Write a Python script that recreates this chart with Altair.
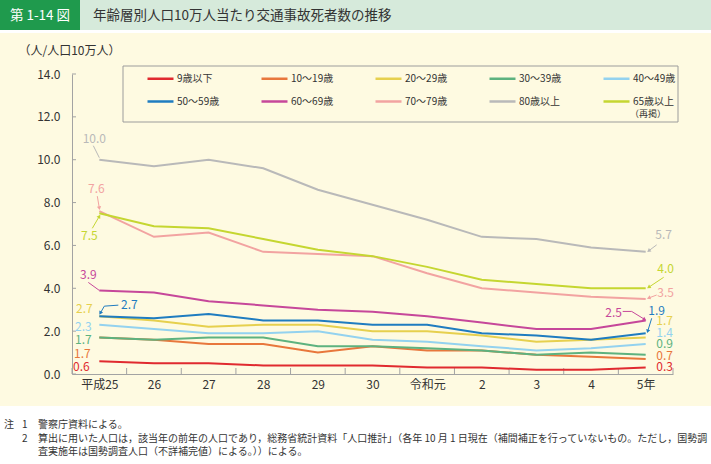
import math

import altair as alt
import pandas as pd

FONT = "Noto Sans CJK JP"

# ---- data -------------------------------------------------------------
years = ["平成25", "26", "27", "28", "29", "30", "令和元", "2", "3", "4", "5年"]

series_names = ["9歳以下", "10～19歳", "20～29歳", "30～39歳", "40～49歳",
                "50～59歳", "60～69歳", "70～79歳", "80歳以上", "65歳以上"]

age_0_9 = [0.6, 0.5, 0.5, 0.4, 0.4, 0.4, 0.3, 0.3, 0.2, 0.2, 0.3]
age_10_19 = [1.7, 1.6, 1.4, 1.4, 1.0, 1.3, 1.1, 1.1, 0.9, 0.8, 0.7]
age_20_29 = [2.7, 2.5, 2.2, 2.3, 2.3, 2.0, 2.0, 1.8, 1.5, 1.6, 1.7]
age_30_39 = [1.7, 1.6, 1.7, 1.7, 1.3, 1.3, 1.2, 1.1, 0.9, 1.0, 0.9]
age_40_49 = [2.3, 2.1, 1.9, 1.9, 2.0, 1.6, 1.5, 1.3, 1.1, 1.2, 1.4]
age_50_59 = [2.7, 2.6, 2.8, 2.5, 2.5, 2.3, 2.3, 1.9, 1.8, 1.6, 1.9]
age_60_69 = [3.9, 3.8, 3.4, 3.2, 3.0, 2.9, 2.7, 2.4, 2.1, 2.1, 2.5]
age_70_79 = [7.6, 6.4, 6.6, 5.7, 5.6, 5.5, 4.7, 4.0, 3.8, 3.6, 3.5]
age_80_up = [10.0, 9.7, 10.0, 9.6, 8.6, 7.9, 7.2, 6.4, 6.3, 5.9, 5.7]
age_65_up = [7.5, 6.9, 6.8, 6.3, 5.8, 5.5, 5.0, 4.4, 4.2, 4.0, 4.0]

series_values = [age_0_9, age_10_19, age_20_29, age_30_39, age_40_49,
                 age_50_59, age_60_69, age_70_79, age_80_up, age_65_up]

y_ticks = [0, 2, 4, 6, 8, 10, 12, 14]

# ---- styling ----------------------------------------------------------
colors = ["#e02a2f", "#e8773c", "#e6d04e", "#5db27f", "#93d2ef",
          "#1f7cc0", "#c6479a", "#f2a3a1", "#b9b9b9", "#c5d631"]
color_of = dict(zip(series_names, colors))

W, H = 601, 300          # plot area
PAD_L, PAD_T = 72, 74    # offset of the plot area inside the page
X_DOM = [-0.5, len(years) - 0.5]
Y_DOM = [0, 14]
PX_X = W / len(years)    # pixels per category
PX_Y = H / (Y_DOM[1] - Y_DOM[0])  # pixels per unit
AXIS_GRAY = "#a3a3a3"
TEXT = "#333333"
CREAM = "#fefae1"

rows = []
for name, vals in zip(series_names, series_values):
    for i, v in enumerate(vals):
        rows.append({"series": name, "idx": i, "value": v})
df = pd.DataFrame(rows)

label_js = "[" + ",".join(f"'{y}'" for y in years) + "][datum.value]"

x_enc = alt.X(
    "idx:Q",
    scale=alt.Scale(domain=X_DOM, nice=False, zero=False),
    axis=alt.Axis(values=list(range(len(years))), labelExpr=label_js, ticks=False,
                  grid=False, title=None, domainColor=AXIS_GRAY, labelColor=TEXT,
                  labelFont=FONT, labelFontSize=12, labelPadding=5),
)
y_enc = alt.Y(
    "value:Q",
    scale=alt.Scale(domain=Y_DOM, nice=False),
    axis=alt.Axis(values=y_ticks, format=".1f", ticks=False, grid=False,
                  domainColor=AXIS_GRAY, labelColor=TEXT, labelFont=FONT,
                  labelFontSize=12, labelPadding=12,
                  title="（人/人口10万人）", titleAngle=0, titleAlign="left",
                  titleBaseline="middle", titleX=-54, titleY=-24,
                  titleFont=FONT, titleFontSize=12, titleFontWeight="normal",
                  titleColor=TEXT),
)

one = pd.DataFrame({"k": [0]})


def rect(x0, y0, x1, y1, fill, stroke=None):
    kw = {"fill": fill}
    if stroke:
        kw.update(stroke=stroke, strokeWidth=1)
    return alt.Chart(one).mark_rect(**kw).encode(
        x=alt.value(x0 - PAD_L), x2=alt.value(x1 - PAD_L),
        y=alt.value(y0 - PAD_T), y2=alt.value(y1 - PAD_T))


def note(text, x, y, size=10, color=TEXT, align="left"):
    return alt.Chart(one).mark_text(
        text=text, align=align, baseline="middle", font=FONT, fontSize=size,
        color=color).encode(x=alt.value(x - PAD_L), y=alt.value(y - PAD_T))


# page furniture: header band, white strip, notes area, legend frame
furniture = [
    rect(0, 0, 711, 33, "#ffffff"),
    rect(0, 0, 80, 30, "#1f9a4d"),
    rect(80, 0, 711, 30, "#d6eadb"),
    rect(0, 406, 711, 464, "#ffffff"),
    rect(123, 66, 678, 122, CREAM, "#9c9c9c"),
]
texts = [
    note("第 1-14 図", 40, 16, size=13.5, color="#ffffff", align="center"),
    note("年齢層別人口10万人当たり交通事故死者数の推移", 93, 16, size=13.5),
    note("（再掲）", 630, 114, size=9),
    note("注", 4, 425),
    note("1", 22, 425),
    note("警察庁資料による。", 38, 425),
    note("2", 22, 439),
    note("算出に用いた人口は，該当年の前年の人口であり，総務省統計資料「人口推計」（各年 10 月 1 日現在（補間補正を行っていないもの。ただし，国勢調", 38, 439),
    note("査実施年は国勢調査人口（不詳補完値）による。））による。", 38, 452),
]

# inward tick marks on both axes
y_tick_df = pd.DataFrame({"value": y_ticks})
y_tick_rules = alt.Chart(y_tick_df).mark_rule(color=AXIS_GRAY).encode(
    y=y_enc, x=alt.value(0), x2=alt.value(4))
x_tick_df = pd.DataFrame({"idx": [i - 0.5 for i in range(len(years) + 1)]})
x_tick_rules = alt.Chart(x_tick_df).mark_rule(color=AXIS_GRAY).encode(
    x=x_enc, y=alt.value(H), y2=alt.value(H - 6))

lines = alt.Chart(df).mark_line(strokeWidth=2).encode(
    x=x_enc, y=y_enc,
    color=alt.Color(
        "series:N",
        scale=alt.Scale(domain=series_names, range=colors),
        legend=alt.Legend(orient="none", legendX=74, legendY=-10, direction="horizontal",
                          columns=5, title=None, symbolType="stroke", symbolSize=676,
                          symbolStrokeWidth=2.5, labelFont=FONT, labelFontSize=10,
                          labelColor=TEXT, labelOffset=2, columnPadding=36,
                          rowPadding=3, gridAlign="all", padding=0),
    ),
    detail="series:N",
)

# value labels at both ends: (series, index, dx, dy, leader points in px, arrow)
last = len(years) - 1
label_specs = [
    ("80歳以上", 0, -5, -21, [(-6, -14), (0, -2)], False),
    ("70～79歳", 0, -3, -22, [(-2, -15), (0, -3)], True),
    ("65歳以上", 0, -10, 23, [(-7, 15), (0, 3)], True),
    ("60～69歳", 0, -11, -15, [(-11, -8), (0, 0)], False),
    ("20～29歳", 0, -15, -7, None, False),
    ("50～59歳", 0, 30, -11, [(19, -11), (5, -10), (1, -3)], True),
    ("40～49歳", 0, -16, 2, None, False),
    ("30～39歳", 0, -16, 2, None, False),
    ("10～19歳", 0, -17, 16, None, False),
    ("9歳以下", 0, -18, 6, None, False),
    ("80歳以上", last, 18, -17, [(11, -7), (3, -1)], True),
    ("65歳以上", last, 20, -19, [(18, -11), (3, -1)], True),
    ("70～79歳", last, 20, -6, [(11, -4), (3, -1)], True),
    ("60～69歳", last, -32, -7, [(-23, -9), (-14, -9), (-1, -1)], True),
    ("50～59歳", last, 11, -22, [(6, -15), (2, -2)], True),
    ("20～29歳", last, 19, -17, None, False),
    ("40～49歳", last, 19, -11.5, None, False),
    ("30～39歳", last, 19, -10.5, None, False),
    ("10～19歳", last, 19, -3.5, None, False),
    ("9歳以下", last, 19, -0.5, None, False),
]

label_layers = []
for name, i, dx, dy, leader, arrow in label_specs:
    point = df[(df.series == name) & (df.idx == i)]
    col = color_of[name]
    label_layers.append(
        alt.Chart(point).mark_text(dx=dx, dy=dy, align="center", baseline="middle",
                                   font=FONT, fontSize=12, color=col)
        .encode(x=x_enc, y=y_enc, text=alt.Text("value:Q", format=".1f")))
    if leader:
        v = float(point["value"].iloc[0])
        pts = pd.DataFrame({
            "idx": [i + px / PX_X for px, _ in leader],
            "value": [v - py / PX_Y for _, py in leader],
            "o": list(range(len(leader))),
        })
        label_layers.append(
            alt.Chart(pts).mark_line(color=col, strokeWidth=1)
            .encode(x=x_enc, y=y_enc, order="o:Q"))
        if arrow:
            (ax, ay), (bx, by) = leader[-2], leader[-1]
            ang = math.degrees(math.atan2(bx - ax, -(by - ay))) % 360
            tip = pts.iloc[[-1]]
            label_layers.append(
                alt.Chart(tip).mark_point(shape="triangle-up", filled=True, size=18,
                                          color=col, opacity=1, angle=round(ang, 1))
                .encode(x=x_enc, y=y_enc))

chart = alt.layer(
    *furniture, *texts, y_tick_rules, x_tick_rules, lines, *label_layers
).properties(
    width=W, height=H,
    padding={"left": PAD_L, "top": PAD_T, "right": 711 - PAD_L - W, "bottom": 464 - PAD_T - H},
    autosize=alt.AutoSizeParams(type="none"),
    background=CREAM,
).configure_view(stroke=None)

chart.save("out.html", embed_options={"renderer": "svg", "actions": False})
